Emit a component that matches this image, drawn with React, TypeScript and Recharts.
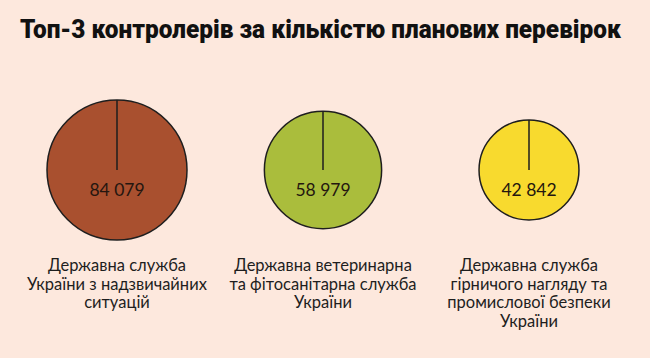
import React from "react";
import { ScatterChart, Scatter, XAxis, YAxis, ZAxis } from "recharts";

const services = ["dsns", "dpss", "derzhpraci"];
const values = [84079, 58979, 42842];
const labels = [
  ["Державна служба", "України з надзвичайних", "ситуацій"],
  ["Державна ветеринарна", "та фітосанітарна служба", "України"],
  ["Державна служба", "гірничого нагляду та", "промислової безпеки", "України"],
];
const colors = ["#a9502f", "#aabd3c", "#f8da2e"];

const data = services.map((s, i) => ({
  key: s,
  y: 1,
  value: values[i],
  lines: labels[i],
  color: colors[i],
}));

const fmt = (n: number) => String(n).replace(/\B(?=(\d{3})+(?!\d))/g, " ");

const maxR = 70;

const Bubble = (props: any) => {
  const { cx, cy, width, payload } = props;
  const r = width / 2;
  return (
    <g>
      <circle cx={cx} cy={cy} r={r} fill={payload.color} stroke="#1e1e1e" strokeWidth={1.5} />
      <line x1={cx} y1={cy - r} x2={cx} y2={cy} stroke="#1e1e1e" strokeWidth={1.5} />
      <text x={cx} y={cy + 26} textAnchor="middle" fontSize={17.5} fontFamily="Lato" fill="#24160f">
        {fmt(payload.value)}
      </text>
      {payload.lines.map((line: string, i: number) => (
        <text
          key={i}
          x={cx}
          y={cy + 101 + i * 18.7}
          textAnchor="middle"
          fontSize={16.5}
          fontFamily="Lato"
          fill="#1e1e1e"
        >
          {line}
        </text>
      ))}
    </g>
  );
};

export default function App() {
  return (
    <div style={{ position: "relative", width: 650, height: 358, background: "#fde8dd" }}>
      <style>{`body{margin:0}`}</style>
      <svg width={650} height={60} style={{ position: "absolute", left: 0, top: 0 }}>
        <text
          x={20}
          y={38}
          fontSize={25}
          fontWeight={900}
          fontFamily="Roboto"
          fill="#111"
          textLength={601}
          lengthAdjust="spacingAndGlyphs"
        >
          Топ-3 контролерів за кількістю планових перевірок
        </text>
      </svg>
      <ScatterChart width={650} height={358} margin={{ top: 100, right: 18, bottom: 118, left: 14 }}>
        <XAxis dataKey="key" type="category" scale="band" hide />
        <YAxis dataKey="y" type="number" domain={[0, 2]} hide />
        <ZAxis dataKey="value" type="number" domain={[0, values[0]]} range={[0, Math.PI * maxR * maxR]} />
        <Scatter data={data} shape={Bubble} isAnimationActive={false} />
      </ScatterChart>
    </div>
  );
}
